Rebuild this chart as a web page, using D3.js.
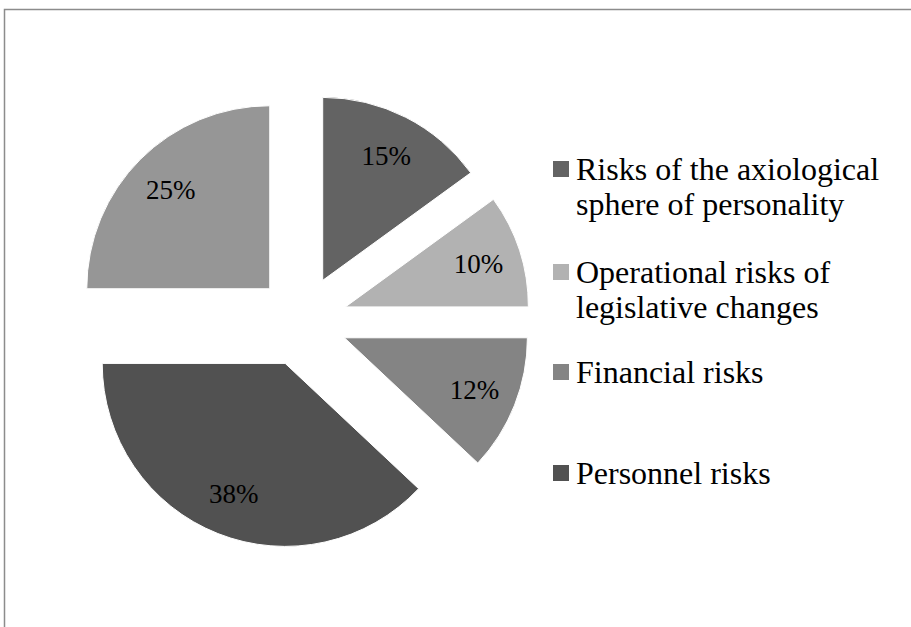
<!DOCTYPE html>
<html>
<head>
<meta charset="utf-8">
<script src="https://cdn.jsdelivr.net/npm/d3@7"></script>
<style>
  html, body { margin: 0; padding: 0; background: #fff; }
  svg { display: block; }
</style>
</head>
<body>
<svg id="chart" width="911" height="627"></svg>
<script>
// ---- data ----
const categories = [
  "Risks of the axiological sphere of personality",
  "Operational risks of legislative changes",
  "Financial risks",
  "Personnel risks",
  "Other"
];
const values = [15, 10, 12, 38, 25];
const colors = ["#636363", "#b2b2b2", "#848484", "#515151", "#969696"];
const legendLines = [
  ["Risks of the axiological", "sphere of personality"],
  ["Operational risks of", "legislative changes"],
  ["Financial risks"],
  ["Personnel risks"]
];

// ---- layout ----
const FONT = "'Liberation Serif', 'Times New Roman', serif";
const svg = d3.select("#chart");
const cx = 302, cy = 321, R = 183, explode = 45.6, labelR = 140;

svg.append("rect")
  .attr("x", 4.5).attr("y", 9.5)
  .attr("width", 1000).attr("height", 1000)
  .attr("fill", "none").attr("stroke", "#8c8c8c").attr("stroke-width", 1.5);

const pie = d3.pie().sort(null).value(d => d).startAngle(0).endAngle(2 * Math.PI);
const arcs = pie(values);
const arc = d3.arc().innerRadius(0).outerRadius(R);
const labelArc = d3.arc().innerRadius(labelR).outerRadius(labelR);

const g = svg.append("g").attr("transform", `translate(${cx},${cy})`);

const slice = g.selectAll("g.slice").data(arcs).enter().append("g")
  .attr("class", "slice")
  .attr("transform", d => {
    const a = (d.startAngle + d.endAngle) / 2;
    return `translate(${explode * Math.sin(a)},${-explode * Math.cos(a)})`;
  });

slice.append("path")
  .attr("d", arc)
  .attr("fill", (d, i) => colors[i])
  .attr("stroke", "#ffffff")
  .attr("stroke-width", 1);

slice.append("text")
  .attr("transform", d => `translate(${labelArc.centroid(d)})`)
  .attr("text-anchor", "middle")
  .attr("dy", "0.35em")
  .attr("font-family", FONT)
  .attr("font-size", 27)
  .attr("fill", "#000")
  .text((d, i) => values[i] + "%");

// ---- legend ----
const baselines = [180, 283, 383, 484];
const leg = svg.append("g");
legendLines.forEach((lines, i) => {
  const by = baselines[i];
  leg.append("rect")
    .attr("x", 553).attr("y", by - 19)
    .attr("width", 16).attr("height", 16)
    .attr("fill", colors[i]);
  const t = leg.append("text")
    .attr("x", 576).attr("y", by)
    .attr("font-family", FONT)
    .attr("font-size", 32)
    .attr("fill", "#000");
  lines.forEach((ln, j) => {
    t.append("tspan").attr("x", 576).attr("y", by + j * 35).text(ln);
  });
});
</script>
</body>
</html>
